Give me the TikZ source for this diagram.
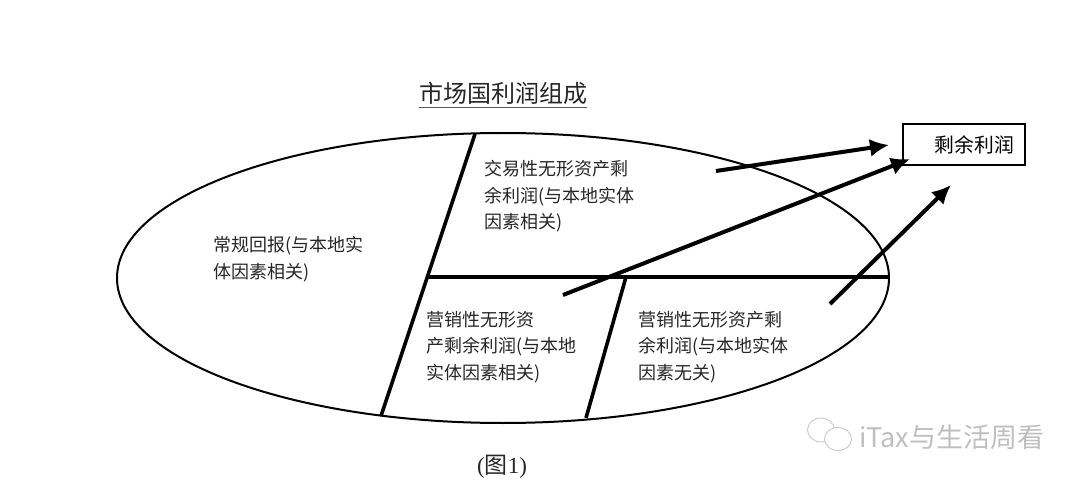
\documentclass[tikz,border=0pt]{standalone}
\usepackage{fontspec}
\setmainfont{Liberation Serif}
\newfontfamily\cjk{Noto Sans CJK SC}
\usepackage{tikz}
\usetikzlibrary{arrows.meta,shapes.geometric}
\tikzset{
lbl/.style={inner sep=0pt,align=left,text=black!85,font=\cjk\fontsize{18pt}{26.6pt}\selectfont},
thick line/.style={line width=3.6pt},
big arrow/.style={line width=4pt,-{Latex[length=19pt,width=18pt]}},
mark line/.style={draw=gray!40,line width=1pt}
}
\begin{document}
\begin{tikzpicture}[x=1pt,y=-1pt]
\useasboundingbox (0,0) rectangle (1080,484);
\node (oval) at (503,278) [ellipse,draw,line width=2pt,minimum width=772pt,minimum height=290pt,inner sep=0pt] {};
\node (title) at (503,93) [inner sep=0pt,text=black!85,font=\cjk\fontsize{24pt}{26pt}\selectfont] {市场国利润组成};
\coordinate (t1) at (419,108);
\coordinate (t2) at (587,108);
\draw[line width=1pt,black!65] (t1) -- (t2);
\coordinate (a1) at (475,134);
\coordinate (a2) at (381,416);
\coordinate (b1) at (426,277);
\coordinate (b2) at (889,277);
\coordinate (c1) at (626,277);
\coordinate (c2) at (586,418);
\draw[thick line] (a1) -- (a2);
\draw[thick line] (b1) -- (b2);
\draw[thick line] (c1) -- (c2);
\node (r0) at (213.5,259) [lbl,anchor=west] {常规回报(与本地实\\体因素相关)};
\node (r1) at (484.5,196.5) [lbl,anchor=west] {交易性无形资产剩\\余利润(与本地实体\\因素相关)};
\node (r2) at (426,347) [lbl,anchor=west] {营销性无形资\\产剩余利润(与本地\\实体因素相关)};
\node (r3) at (638.5,347) [lbl,anchor=west] {营销性无形资产剩\\余利润(与本地实体\\因素无关)};
\node (res) at (964,144.5) [draw,line width=2.4pt,minimum width=122pt,minimum height=41pt,inner sep=0pt,font=\cjk\fontsize{19.8pt}{22pt}\selectfont] {\hspace*{21pt}剩余利润};
\coordinate (s1) at (716,171);
\coordinate (e1) at (889,145);
\coordinate (s2) at (563,295);
\coordinate (e2) at (910,159);
\coordinate (s3) at (830,304);
\coordinate (e3) at (951,185);
\draw[big arrow] (s1) -- (e1);
\draw[big arrow] (s2) -- (e2);
\draw[big arrow] (s3) -- (e3);
\node (fig) at (502,467) [inner sep=0pt,text=black!85,font=\fontsize{23pt}{25pt}\selectfont] {({\cjk 图}1)};
\node (icon1) at (821,430) [ellipse,mark line,minimum width=27pt,minimum height=24pt,inner sep=0pt] {};
\node (icon2) at (838,439) [ellipse,mark line,fill=white,minimum width=27pt,minimum height=23pt,inner sep=0pt] {};
\node (mark) at (859,437) [anchor=west,inner sep=0pt,text=gray!50,font=\cjk\fontsize{27pt}{29pt}\selectfont] {iTax与生活周看};
\end{tikzpicture}
\end{document}
